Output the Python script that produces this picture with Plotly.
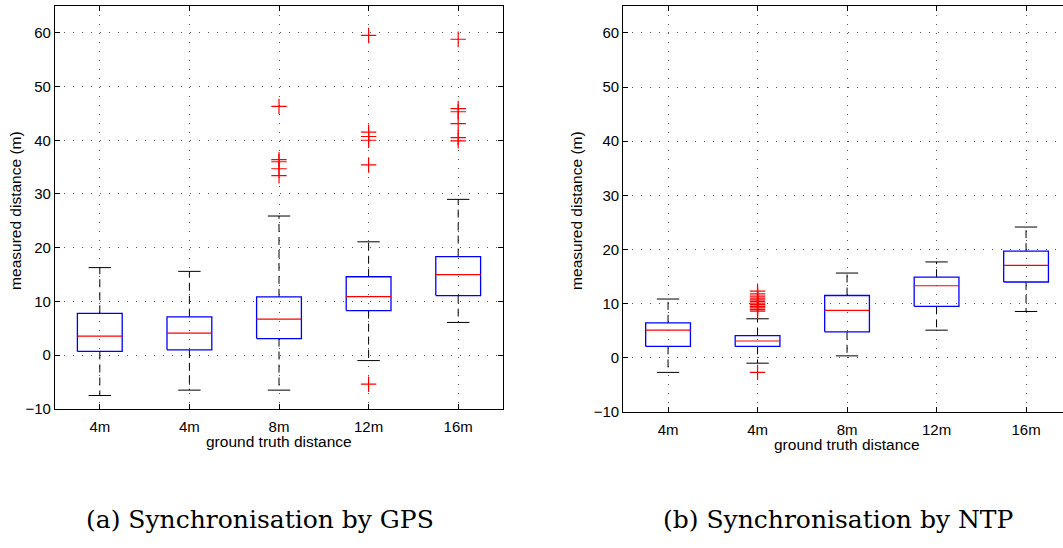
import plotly.graph_objects as go

# Ground-truth distance labels (two runs at 4 m)
categories = ["4m", "4m", "8m", "12m", "16m"]
positions = [1, 2, 3, 4, 5]

# (a) GPS-synchronised measurements: box-plot statistics (m)
gps_lower_whisker = [-7.5, -6.5, -6.5, -1.0, 6.1]
gps_q1 = [0.7, 1.0, 3.1, 8.3, 11.1]
gps_median = [3.55, 4.1, 6.7, 10.9, 15.0]
gps_q3 = [7.8, 7.15, 10.85, 14.6, 18.35]
gps_upper_whisker = [16.3, 15.6, 25.9, 21.1, 29.0]
gps_outliers = [
    [],
    [],
    [46.3, 36.4, 36.0, 34.7, 33.4],
    [59.5, 41.5, 40.7, 40.0, 35.4, -5.4],
    [58.8, 45.9, 45.3, 43.1, 40.5, 39.9],
]

# (b) NTP-synchronised measurements: box-plot statistics (m)
ntp_lower_whisker = [-2.7, -1.0, 0.35, 5.1, 8.55]
ntp_q1 = [2.1, 2.1, 4.8, 9.5, 14.0]
ntp_median = [5.1, 3.1, 8.75, 13.3, 17.05]
ntp_q3 = [6.45, 4.1, 11.5, 14.9, 19.7]
ntp_upper_whisker = [10.85, 7.2, 15.65, 17.7, 24.15]
ntp_outliers = [
    [],
    [12.3, 11.8, 11.4, 11.0, 10.7, 10.4, 10.1, 9.8, 9.5, 9.2, 8.9, 8.6, -2.7],
    [],
    [],
    [],
]

y_ticks = [-10, 0, 10, 20, 30, 40, 50, 60]

BOX_HALF = 0.25
CAP_HALF = 0.125
SANS = "Liberation Sans, Arial, sans-serif"

fig = go.Figure()


def add_boxplot(xa, ya, lo, q1, med, q3, hi, outs):
    bx, by, mx, my, wx, wy, cx, cy, ox, oy = ([] for _ in range(10))
    for p, l, a, m, b, h, o in zip(positions, lo, q1, med, q3, hi, outs):
        bx += [p - BOX_HALF, p + BOX_HALF, p + BOX_HALF, p - BOX_HALF, p - BOX_HALF, None]
        by += [a, a, b, b, a, None]
        mx += [p - BOX_HALF, p + BOX_HALF, None]
        my += [m, m, None]
        wx += [p, p, None, p, p, None]
        wy += [b, h, None, a, l, None]
        cx += [p - CAP_HALF, p + CAP_HALF, None, p - CAP_HALF, p + CAP_HALF, None]
        cy += [h, h, None, l, l, None]
        ox += [p] * len(o)
        oy += list(o)
    common = dict(xaxis=xa, yaxis=ya, mode="lines", hoverinfo="skip", showlegend=False)
    fig.add_trace(go.Scatter(x=wx, y=wy, line=dict(color="black", width=1, dash="8px,5px"), **common))
    fig.add_trace(go.Scatter(x=cx, y=cy, line=dict(color="black", width=1), **common))
    fig.add_trace(go.Scatter(x=bx, y=by, line=dict(color="#0000ff", width=1.3), **common))
    fig.add_trace(go.Scatter(x=mx, y=my, line=dict(color="#ff0000", width=1.2), **common))
    fig.add_trace(go.Scatter(
        x=ox, y=oy, xaxis=xa, yaxis=ya, mode="markers", hoverinfo="skip", showlegend=False,
        marker=dict(symbol="cross-thin", size=11, line=dict(color="#ff0000", width=1.2)),
    ))


add_boxplot("x", "y", gps_lower_whisker, gps_q1, gps_median, gps_q3, gps_upper_whisker, gps_outliers)
add_boxplot("x2", "y2", ntp_lower_whisker, ntp_q1, ntp_median, ntp_q3, ntp_upper_whisker, ntp_outliers)

W, H = 1063, 548

axis_common = dict(
    showgrid=True, gridcolor="#555555", gridwidth=1, griddash="1px,8px",
    zeroline=False, showline=True, linecolor="black", linewidth=1.3,
    ticks="inside", ticklen=5, tickcolor="black", tickwidth=1,
    tickfont=dict(family=SANS, size=15, color="black"),
)

fig.update_layout(
    width=W, height=H,
    margin=dict(l=0, r=0, t=0, b=0),
    paper_bgcolor="white", plot_bgcolor="white",
    xaxis=dict(domain=[55 / W, 503 / W], range=[0.5, 5.5], anchor="y", ticklabelstandoff=4,
               tickvals=positions, ticktext=categories, mirror="ticks", **axis_common),
    yaxis=dict(domain=[(H - 415) / H, (H - 6) / H], range=[-10, 65], anchor="x",
               tickvals=y_ticks, mirror="ticks", **axis_common),
    xaxis2=dict(domain=[623.3 / W, 1.0], range=[0.5, 0.5 + (W - 623.3) / 89.5], anchor="y2",
                ticklabelstandoff=4,
                tickvals=positions, ticktext=categories, mirror="ticks", **axis_common),
    yaxis2=dict(domain=[(H - 418) / H, (H - 6) / H], range=[-10, 65], anchor="x2",
                tickvals=y_ticks, mirror=False, **axis_common),
)

title_font = dict(family=SANS, size=15.5, color="black")
annotations = [
    dict(text="ground truth distance", x=279 / W, y=(H - 448) / H),
    dict(text="measured distance (m)", x=16 / W, y=(H - 214) / H, textangle=-90),
    dict(text="ground truth distance", x=847 / W, y=(H - 451) / H),
    dict(text="measured distance (m)", x=577 / W, y=(H - 214) / H, textangle=-90),
]
for a in annotations:
    fig.add_annotation(xref="paper", yref="paper", showarrow=False,
                       xanchor="center", yanchor="middle", font=title_font, **a)

caption_font = dict(family="DejaVu Serif, Liberation Serif, serif", size=25, color="black")
fig.add_annotation(text="(a) Synchronisation by GPS", x=260 / W, y=(H - 527) / H,
                   xref="paper", yref="paper", showarrow=False,
                   xanchor="center", yanchor="middle", font=caption_font)
fig.add_annotation(text="(b) Synchronisation by NTP", x=838 / W, y=(H - 527) / H,
                   xref="paper", yref="paper", showarrow=False,
                   xanchor="center", yanchor="middle", font=caption_font)

fig.write_html("out.html")
